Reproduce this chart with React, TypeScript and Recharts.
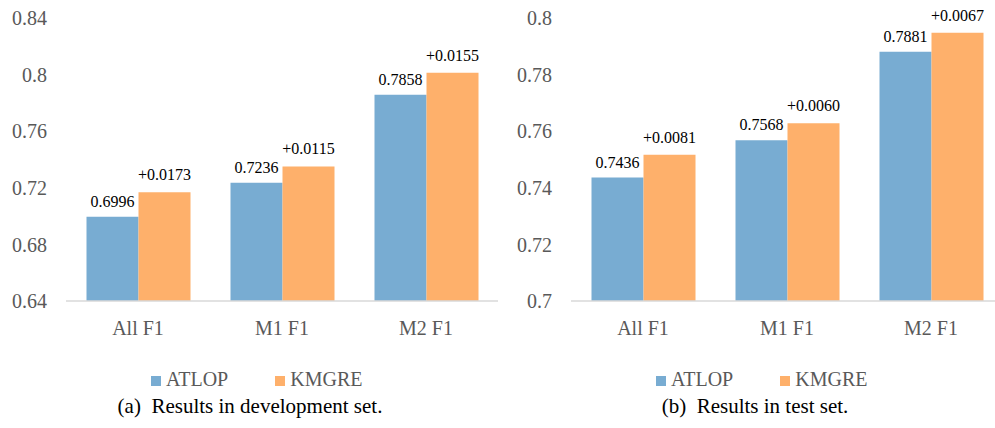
import React from 'react';
import { BarChart, Bar, XAxis, YAxis, Legend, LabelList } from 'recharts';

const categories = ['All F1', 'M1 F1', 'M2 F1'];

// (a) development set
const devAtlop = [0.6996, 0.7236, 0.7858];
const devKmgre = [0.7169, 0.7351, 0.8013];
const devGain = ['+0.0173', '+0.0115', '+0.0155'];
const devTicks = [0.64, 0.68, 0.72, 0.76, 0.8, 0.84];

// (b) test set
const testAtlop = [0.7436, 0.7568, 0.7881];
const testKmgre = [0.7517, 0.7628, 0.7948];
const testGain = ['+0.0081', '+0.0060', '+0.0067'];
const testTicks = [0.7, 0.72, 0.74, 0.76, 0.78, 0.8];

const BLUE = '#78acd2';
const ORANGE = '#feb06b';
const FONT = "'Liberation Serif', Tinos, 'DejaVu Serif', serif";

const LegendBox = () => (
  <div
    style={{
      display: 'flex',
      alignItems: 'center',
      height: 24,
      fontFamily: FONT,
      fontSize: 20,
      color: '#595959',
      whiteSpace: 'nowrap',
    }}
  >
    <span style={{ width: 10, height: 10, background: BLUE, marginRight: 5, marginTop: 3 }} />
    <span>ATLOP</span>
    <span style={{ width: 10, height: 10, background: ORANGE, marginLeft: 47, marginRight: 5, marginTop: 3 }} />
    <span>KMGRE</span>
  </div>
);

type PanelProps = {
  atlop: number[];
  kmgre: number[];
  gain: string[];
  ticks: number[];
};

function Panel({ atlop, kmgre, gain, ticks }: PanelProps) {
  const data = categories.map((name, i) => ({
    name,
    atlop: atlop[i],
    kmgre: kmgre[i],
    gain: gain[i],
  }));

  return (
    <BarChart
      width={510}
      height={395}
      data={data}
      margin={{ top: 18, right: 12, left: 0, bottom: 4 }}
      barCategoryGap={20.5}
      barGap={0}
      style={{ fontFamily: FONT }}
    >
      <XAxis
        dataKey="name"
        interval={0}
        height={66}
        tickLine={false}
        tickMargin={14}
        axisLine={{ stroke: '#d9d9d9', strokeWidth: 1.5 }}
        tick={{ fill: '#595959', fontSize: 20, fontFamily: FONT }}
      />
      <YAxis
        width={66}
        domain={[ticks[0], ticks[ticks.length - 1]]}
        ticks={ticks}
        axisLine={false}
        tickLine={false}
        tickMargin={13}
        tick={{ fill: '#595959', fontSize: 20, fontFamily: FONT }}
      />
      <Legend
        verticalAlign="bottom"
        content={<LegendBox />}
        wrapperStyle={{ left: 151, width: 'auto' }}
      />
      <Bar dataKey="atlop" name="ATLOP" fill={BLUE} isAnimationActive={false}>
        <LabelList
          dataKey="atlop"
          position="top"
          offset={10}
          formatter={(v: any) => Number(v).toFixed(4)}
          style={{ fill: '#000', fontSize: 16, fontFamily: FONT }}
        />
      </Bar>
      <Bar dataKey="kmgre" name="KMGRE" fill={ORANGE} isAnimationActive={false}>
        <LabelList
          dataKey="gain"
          position="top"
          offset={12}
          style={{ fill: '#000', fontSize: 16, fontFamily: FONT }}
        />
      </Bar>
    </BarChart>
  );
}

const captionStyle: React.CSSProperties = {
  position: 'absolute',
  top: 394,
  width: 500,
  textAlign: 'center',
  fontFamily: FONT,
  fontSize: 21,
  color: '#000',
  whiteSpace: 'pre',
};

export default function App() {
  return (
    <div
      style={{
        position: 'absolute',
        left: 0,
        top: 0,
        width: 995,
        height: 428,
        overflow: 'hidden',
        background: '#fff',
        fontFamily: FONT,
      }}
    >
      <div style={{ position: 'absolute', left: 0, top: 0 }}>
        <Panel atlop={devAtlop} kmgre={devKmgre} gain={devGain} ticks={devTicks} />
      </div>
      <div style={{ position: 'absolute', left: 505, top: 0 }}>
        <Panel atlop={testAtlop} kmgre={testKmgre} gain={testGain} ticks={testTicks} />
      </div>
      <div style={{ ...captionStyle, left: 0 }}>(a)  Results in development set.</div>
      <div style={{ ...captionStyle, left: 505 }}>(b)  Results in test set.</div>
    </div>
  );
}
